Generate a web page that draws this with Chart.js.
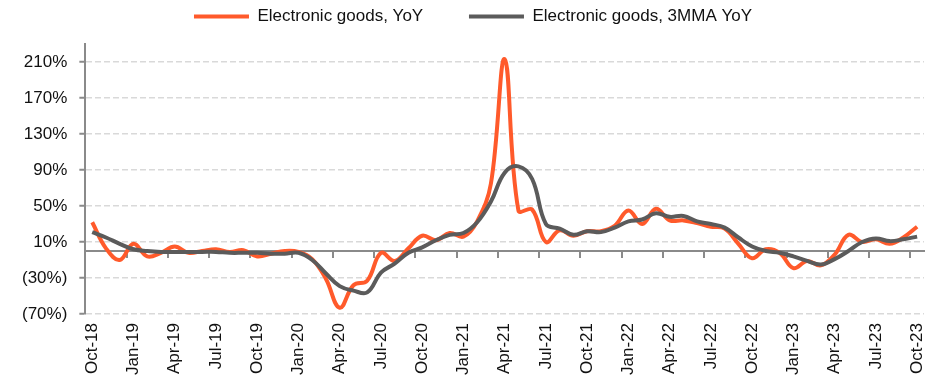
<!DOCTYPE html>
<html>
<head>
<meta charset="utf-8">
<script src="https://cdn.jsdelivr.net/npm/chart.js@4.4.1/dist/chart.umd.min.js"></script>
<style>
  html, body { margin: 0; padding: 0; background: #fff; }
</style>
</head>
<body>
<canvas id="ch-electronics" width="948" height="384"></canvas>
<script>
// Monthly categories, Oct-18 .. Oct-23
const MON = ['Jan','Feb','Mar','Apr','May','Jun','Jul','Aug','Sep','Oct','Nov','Dec'];
const MONTHS = [];
for (let y = 18; y <= 23; y++) {
  MON.forEach((m, i) => {
    if ((y === 18 && i < 9) || (y === 23 && i > 9)) return;
    MONTHS.push(m + '-' + y);
  });
}

// Electronic goods, YoY (%)
const YOY = [
  32, 3, -10, 8, -6, -2, 5, -2, 0, 2, -1, 1,
  -6, -3, 0, -1, -9, -31, -63, -38, -33, -2, -11, 3,
  17, 12, 20, 16, 33, 75, 213, 45, 46, 10, 23, 17,
  22, 22, 28, 45, 30, 47, 34, 34, 31, 27, 25, 8,
  -8, 2, -2, -19, -11, -16, -4, 18, 10, 13, 8, 15,
  27
];

// Electronic goods, 3MMA YoY (%)
const MMA3 = [
  21, 15, 8, 2, 0, -1, -1, -1, -1, -1, -2, -2,
  -2, -3, -3, -2, -10, -25, -39, -44, -46, -24, -14, -2,
  4, 12, 18, 20, 32, 55, 87, 94, 80, 30, 25, 18,
  22, 21, 26, 33, 35, 42, 38, 39, 33, 30, 26, 15,
  5, 0, -2, -6, -11, -15, -9, 0, 10, 14, 11, 13,
  16
];

// y axis range and labelled ticks
const Y_MIN = -70, Y_MAX = 230;
const Y_TICKS = [-70, -30, 10, 50, 90, 130, 170, 210];

const ORANGE = '#ff5a2b';
const GREY = '#5b5b5b';
const AXIS = '#8a8a8a';
const TXT = '#111111';
const FONT = { family: "'Liberation Sans', Arial, sans-serif", size: 17 };

const pct = v => v < 0 ? '(' + Math.abs(v) + '%)' : v + '%';

// extra room under the legend, and nudge it a little to the right
const legendGap = {
  id: 'legendGap',
  beforeInit(chart) {
    const fit = chart.legend.fit;
    chart.legend.fit = function () { fit.call(this); this.height += 9; };
  },
  afterLayout(chart) {
    chart.legend.left += 6;
    chart.legend.right += 6;
  }
};

new Chart(document.getElementById('ch-electronics'), {
  type: 'line',
  data: {
    labels: MONTHS,
    datasets: [
      { label: 'Electronic goods, YoY', data: YOY, borderColor: ORANGE, backgroundColor: ORANGE,
        borderWidth: 4, pointRadius: 0, tension: 0.4, order: 1 },
      { label: 'Electronic goods, 3MMA YoY', data: MMA3, borderColor: GREY, backgroundColor: GREY,
        borderWidth: 4, pointRadius: 0, tension: 0.4, order: 0 }
    ]
  },
  plugins: [legendGap],
  options: {
    responsive: false,
    animation: false,
    layout: { padding: { top: 0, left: 10, right: 24, bottom: 0 } },
    plugins: {
      tooltip: { enabled: false },
      legend: {
        position: 'top',
        labels: {
          font: FONT, color: TXT, boxWidth: 55, boxHeight: 4, padding: 8,
          sort: (a, b) => a.datasetIndex - b.datasetIndex,
          generateLabels: chart => Chart.defaults.plugins.legend.labels.generateLabels(chart).map(l => ({
            ...l,
            text: l.datasetIndex === 0 ? l.text + '        ' : l.text,
            fillStyle: l.strokeStyle,
            lineWidth: 0
          }))
        }
      }
    },
    scales: {
      x: {
        offset: true,
        grid: { display: false, drawTicks: false },
        border: { display: false },
        ticks: {
          autoSkip: false, minRotation: 90, maxRotation: 90, padding: 9,
          font: FONT, color: TXT,
          callback: function (v, i) { return i % 3 === 0 ? this.getLabelForValue(v) : ''; }
        }
      },
      // zero line with quarterly tick marks
      x0: {
        type: 'category',
        labels: MONTHS,
        position: { y: 0 },
        offset: true,
        grid: {
          offset: true, drawOnChartArea: false, tickLength: 6, lineWidth: 2,
          color: ctx => ctx.index % 3 === 0 ? AXIS : 'rgba(0,0,0,0)'
        },
        border: { display: true, color: AXIS, width: 2 },
        ticks: { display: false, autoSkip: false }
      },
      y: {
        min: Y_MIN, max: Y_MAX,
        afterBuildTicks: s => { s.ticks = Y_TICKS.map(v => ({ value: v })); },
        ticks: { padding: 12, font: FONT, color: TXT, callback: pct },
        grid: { color: '#d9d9d9', lineWidth: 1.5, tickLength: 6, tickColor: AXIS, tickWidth: 2 },
        border: { color: AXIS, width: 2, dash: [6, 3] }
      }
    }
  }
});
</script>
</body>
</html>
